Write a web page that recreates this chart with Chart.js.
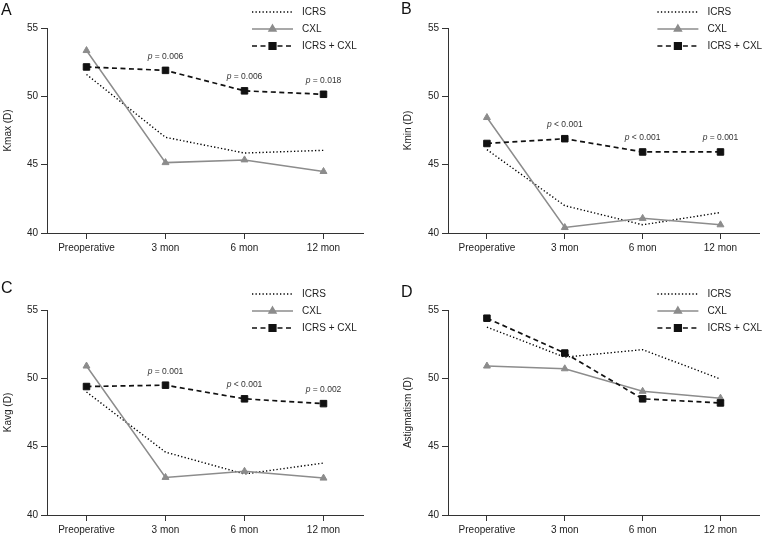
<!DOCTYPE html>
<html>
<head>
<meta charset="utf-8">
<script src="https://cdn.jsdelivr.net/npm/chart.js@4.4.0/dist/chart.umd.min.js"></script>
<style>
body { margin: 0; background: #fff; width: 765px; height: 537px; position: relative; overflow: hidden; }
.panel { position: absolute; }
.letter { position: absolute; font: 16px "Liberation Sans", Arial, sans-serif; color: #111; }
</style>
</head>
<body>
<div class="panel" style="left:0;top:0"><canvas id="cA" width="380" height="268"></canvas></div>
<div class="panel" style="left:380px;top:0"><canvas id="cB" width="385" height="268"></canvas></div>
<div class="panel" style="left:0;top:268px"><canvas id="cC" width="380" height="269"></canvas></div>
<div class="panel" style="left:380px;top:268px"><canvas id="cD" width="385" height="269"></canvas></div>
<div class="letter" style="left:1px;top:1px">A</div>
<div class="letter" style="left:401px;top:0px">B</div>
<div class="letter" style="left:1px;top:279px">C</div>
<div class="letter" style="left:401px;top:283px">D</div>
<script>
var categories = ['Preoperative', '3 mon', '6 mon', '12 mon'];
var seriesNames = ['ICRS', 'CXL', 'ICRS + CXL'];
var yTicks = [40, 45, 50, 55];

var kmaxIcrs = [51.6, 47.0, 45.85, 46.05];
var kmaxCxl = [53.35, 45.15, 45.35, 44.5];
var kmaxBoth = [52.15, 51.9, 50.4, 50.15];
var kmaxP = ['', '= 0.006', '= 0.006', '= 0.018'];

var kminIcrs = [46.1, 42.0, 40.6, 41.5];
var kminCxl = [48.45, 40.4, 41.07, 40.6];
var kminBoth = [46.55, 46.9, 45.93, 45.93];
var kminP = ['', '< 0.001', '< 0.001', '= 0.001'];

var kavgIcrs = [49.0, 44.6, 43.0, 43.8];
var kavgCxl = [50.9, 42.75, 43.2, 42.7];
var kavgBoth = [49.4, 49.5, 48.5, 48.15];
var kavgP = ['', '= 0.001', '< 0.001', '= 0.002'];

var astigIcrs = [53.75, 51.55, 52.1, 49.95];
var astigCxl = [50.9, 50.7, 49.05, 48.55];
var astigBoth = [54.4, 51.85, 48.5, 48.2];
var astigP = ['', '', '', ''];

var FONT = '"Liberation Sans", Arial, sans-serif';
var AXIS = '#333';
var TEXT = '#222';
var GREY = 'rgb(140,140,140)';

// legend drawn by hand: line + marker + label, like the figure
var legendPlugin = {
	id: 'figLegend',
	afterDraw: function(chart) {
		var o = chart.options.plugins.figLegend;
		var ctx = chart.ctx;
		var area = chart.chartArea;
		chart.data.datasets.forEach(function(ds, i) {
			var x0 = area.right - o.fromRight;
			var y = area.top + o.dy + i * 17;
			ctx.save();
			ctx.strokeStyle = ds.borderColor;
			ctx.lineWidth = ds.borderWidth;
			ctx.setLineDash(ds.borderDash || []);
			ctx.beginPath();
			ctx.moveTo(x0, y);
			ctx.lineTo(x0 + 41, y);
			ctx.stroke();
			ctx.setLineDash([]);
			if (ds.pointRadius > 0) {
				ctx.fillStyle = ds.pointBackgroundColor;
				ctx.strokeStyle = ds.pointBorderColor;
				Chart.helpers.drawPoint(ctx, {pointStyle: ds.pointStyle, radius: ds.pointRadius, rotation: 0, borderWidth: 1}, x0 + 20.5, y);
			}
			ctx.fillStyle = TEXT;
			ctx.font = '10px ' + FONT;
			ctx.textBaseline = 'middle';
			ctx.textAlign = 'left';
			ctx.fillText(ds.label, x0 + 50, y);
			ctx.restore();
		});
	}
};

// p-values written above the ICRS + CXL markers
var pPlugin = {
	id: 'pLabels',
	afterDatasetsDraw: function(chart) {
		var labels = chart.options.plugins.pLabels.labels;
		var meta = chart.getDatasetMeta(2);
		var ctx = chart.ctx;
		ctx.save();
		ctx.fillStyle = '#333';
		ctx.textBaseline = 'middle';
		labels.forEach(function(t, i) {
			if (!t) return;
			var pt = meta.data[i];
			ctx.font = 'italic 8.5px ' + FONT;
			var w1 = ctx.measureText('p').width;
			ctx.font = '8.5px ' + FONT;
			var w2 = ctx.measureText(' ' + t).width;
			var x = pt.x - (w1 + w2) / 2;
			var y = pt.y - 14;
			ctx.font = 'italic 8.5px ' + FONT;
			ctx.textAlign = 'left';
			ctx.fillText('p', x, y);
			ctx.font = '8.5px ' + FONT;
			ctx.fillText(' ' + t, x + w1, y);
		});
		ctx.restore();
	}
};

function makePanel(id, yTitle, icrs, cxl, both, pvals, lay) {
	new Chart(document.getElementById(id), {
		type: 'line',
		data: {
			labels: categories,
			datasets: [
				{
					label: seriesNames[0],
					data: icrs,
					borderColor: '#000',
					borderWidth: 1.4,
					borderDash: [1.3, 2.2],
					pointRadius: 0,
					pointBackgroundColor: '#000',
					pointBorderColor: '#000',
					tension: 0,
					order: 3
				},
				{
					label: seriesNames[1],
					data: cxl,
					borderColor: GREY,
					borderWidth: 1.5,
					pointStyle: 'triangle',
					pointRadius: 4,
					pointBackgroundColor: GREY,
					pointBorderColor: GREY,
					pointBorderWidth: 1,
					tension: 0,
					order: 2
				},
				{
					label: seriesNames[2],
					data: both,
					borderColor: '#111',
					borderWidth: 1.7,
					borderDash: [5, 3.5],
					pointStyle: 'rect',
					pointRadius: 4.6,
					pointBackgroundColor: '#111',
					pointBorderColor: '#111',
					pointBorderWidth: 1,
					tension: 0,
					order: 1
				}
			]
		},
		options: {
			responsive: false,
			animation: false,
			devicePixelRatio: 1,
			layout: { padding: { left: lay.padLeft, top: lay.padTop, right: lay.padRight, bottom: lay.padBottom } },
			plugins: {
				legend: { display: false },
				tooltip: { enabled: false },
				figLegend: { fromRight: lay.legRight, dy: -16 },
				pLabels: { labels: pvals }
			},
			scales: {
				x: {
					type: 'category',
					offset: true,
					grid: { display: true, drawOnChartArea: false, drawTicks: true, tickLength: 6, color: AXIS, offset: false },
					border: { display: true, color: AXIS, width: 1 },
					ticks: { color: TEXT, font: { family: FONT, size: 10 }, padding: 3, maxRotation: 0, autoSkip: false },
					afterFit: function(s) { s.height = lay.xHeight; }
				},
				y: {
					min: 40,
					max: 55,
					afterBuildTicks: function(s) { s.ticks = yTicks.map(function(v) { return { value: v }; }); },
					grid: { display: true, drawOnChartArea: false, drawTicks: true, tickLength: 6, color: AXIS },
					border: { display: true, color: AXIS, width: 1 },
					ticks: { color: TEXT, font: { family: FONT, size: 10 }, padding: 3 },
					title: { display: true, text: yTitle, color: TEXT, font: { family: FONT, size: 10 }, padding: { top: 0, bottom: 0 } },
					afterFit: function(s) { s.width = lay.yWidth; }
				}
			}
		},
		plugins: [legendPlugin, pPlugin]
	});
}

var layTop = { padLeft: 2, padTop: 28, padRight: 17, padBottom: 5, xHeight: 30, yWidth: 45, legRight: 111 };
var layTopR = { padLeft: 22, padTop: 28, padRight: 5, padBottom: 5, xHeight: 30, yWidth: 46, legRight: 102 };
var layBot = { padLeft: 2, padTop: 42, padRight: 17, padBottom: 0, xHeight: 22, yWidth: 45, legRight: 111 };
var layBotR = { padLeft: 22, padTop: 42, padRight: 5, padBottom: 0, xHeight: 22, yWidth: 46, legRight: 102 };

makePanel('cA', 'Kmax (D)', kmaxIcrs, kmaxCxl, kmaxBoth, kmaxP, layTop);
makePanel('cB', 'Kmin (D)', kminIcrs, kminCxl, kminBoth, kminP, layTopR);
makePanel('cC', 'Kavg (D)', kavgIcrs, kavgCxl, kavgBoth, kavgP, layBot);
makePanel('cD', 'Astigmatism (D)', astigIcrs, astigCxl, astigBoth, astigP, layBotR);
</script>
</body>
</html>
